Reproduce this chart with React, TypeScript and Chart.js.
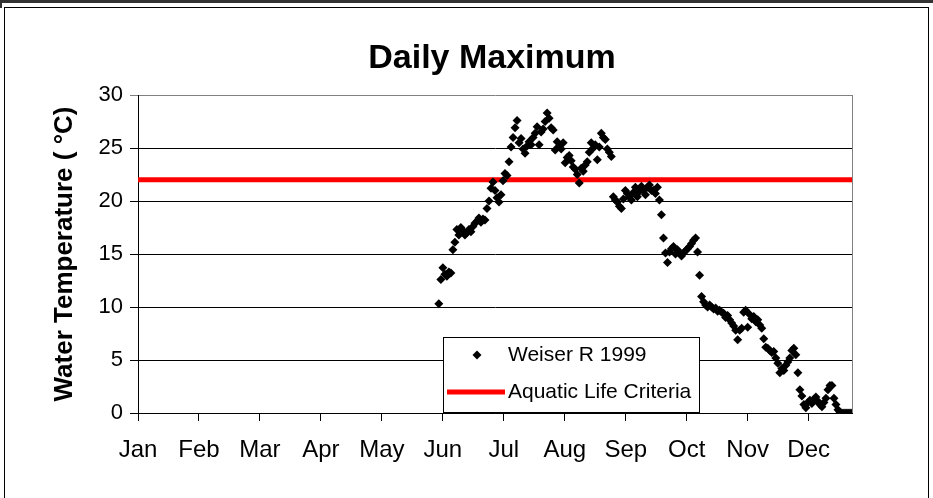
import React, { useEffect, useRef } from "react";
import { Chart, registerables } from "chart.js";

Chart.register(...registerables);

// Month axis (day-of-year, 0 = Jan 1); tick marks evenly spaced, one per month
const monthLabels = ["Jan", "Feb", "Mar", "Apr", "May", "Jun", "Jul", "Aug", "Sep", "Oct", "Nov", "Dec"];
const monthTickDays = [0, 30.4, 60.8, 91.2, 121.6, 152, 182.4, 212.8, 243.2, 273.6, 304, 334.4];
const axisEndDay = 356;

// Weiser R 1999 daily maximum water temperature (°C), one value per day starting at firstDay
const firstDay = 150;
const weiser1999 = [
  10.3, 12.6, 13.7, 13.1, 12.9, 13.3, 13.2, 15.4, 16.1, 17.3,
  16.8, 17.5, 17.2, 16.8, 17.0, 17.3, 17.1, 17.6, 17.9, 18.1,
  18.4, 18.0, 18.3, 18.2, 19.3, 20.0, 21.2, 21.8, 21.0, 20.3,
  19.9, 20.6, 21.9, 22.6, 22.4, 23.7, 25.1, 26.0, 26.9, 27.6,
  25.5, 25.9, 24.9, 24.5, 25.2, 25.6, 25.3, 26.0, 26.4, 27.0,
  25.3, 26.5, 26.8, 27.5, 28.3, 27.8, 26.9, 26.7, 24.8, 25.6,
  25.2, 24.9, 25.5, 23.6, 24.1, 24.3, 23.8, 23.2, 23.0, 22.5,
  21.7, 23.1, 22.8, 23.4, 23.7, 24.6, 25.5, 25.0, 25.3, 23.9,
  25.1, 26.4, 26.0, 25.8, 24.9, 24.6, 24.2, 20.4, 20.1, 19.9,
  19.5, 19.3, 20.2, 21.0, 20.7, 20.4, 20.1, 20.8, 21.3, 20.4,
  20.9, 21.4, 21.0, 20.6, 21.3, 21.5, 21.0, 21.0, 20.7, 21.3,
  20.1, 18.7, 16.5, 15.1, 14.2, 15.2, 15.5, 15.7, 15.0, 15.4,
  15.1, 14.8, 15.1, 15.3, 15.5, 15.7, 16.0, 16.3, 16.5, 15.2,
  13.0, 11.0, 10.5, 10.2, 10.0, 10.2, 10.0, 9.8, 9.9, 9.6,
  9.7, 9.5, 9.4, 9.0, 9.2, 8.8, 8.5, 8.2, 7.8, 6.9,
  7.8, 8.0, 9.5, 9.7, 8.1, 9.3, 8.9, 9.1, 8.6, 8.8,
  8.3, 8.0, 7.0, 6.2, 6.1, 5.9, 5.7, 5.8, 5.2, 4.7,
  3.8, 4.2, 4.0, 4.5, 4.8, 5.2, 5.9, 6.1, 5.5, 3.8,
  2.2, 1.6, 0.8, 0.5, 1.0, 1.2, 0.9, 1.3, 1.5, 1.1,
  0.8, 0.6, 1.0, 1.4, 2.2, 2.6, 2.6, 1.4, 0.8, 0.3,
  0.1, 0.0, 0.0, 0.0, 0.0, 0.0, 0.0,
];

// Aquatic life criteria line
const criteriaValue = 22;
const criteriaDays = [0, axisEndDay];

const yTicks = [0, 5, 10, 15, 20, 25, 30];

const FONT = '"Liberation Sans", Arial, sans-serif';

const decorPlugin = {
  id: "decor",
  beforeDatasetsDraw(chart: any) {
    const { ctx, chartArea } = chart;
    const { top, right, bottom } = chartArea;
    ctx.save();
    ctx.strokeStyle = "#808080";
    ctx.lineWidth = 1;
    ctx.beginPath();
    ctx.moveTo(Math.round(right) + 0.5, top);
    ctx.lineTo(Math.round(right) + 0.5, bottom);
    ctx.stroke();
    ctx.restore();
  },
  afterDraw(chart: any) {
    const { ctx, chartArea } = chart;
    const { left, right } = chartArea;
    ctx.save();
    // Title
    ctx.fillStyle = "#000";
    ctx.font = `bold 34px ${FONT}`;
    ctx.textAlign = "center";
    ctx.textBaseline = "alphabetic";
    ctx.fillText("Daily Maximum", (left + right) / 2 - 3, 68);

    // Legend box
    const bx = 443.5, by = 337.5, bw = 256, bh = 75;
    ctx.fillStyle = "#fff";
    ctx.fillRect(bx, by, bw, bh);
    ctx.strokeStyle = "#000";
    ctx.lineWidth = 1;
    ctx.strokeRect(bx, by, bw, bh);

    // marker
    const mx = 477, my = 355, r = 4.5;
    ctx.fillStyle = "#000";
    ctx.beginPath();
    ctx.moveTo(mx, my - r);
    ctx.lineTo(mx + r, my);
    ctx.lineTo(mx, my + r);
    ctx.lineTo(mx - r, my);
    ctx.closePath();
    ctx.fill();

    // red line
    ctx.strokeStyle = "#ff0000";
    ctx.lineWidth = 5;
    ctx.beginPath();
    ctx.moveTo(447, 392);
    ctx.lineTo(505, 392);
    ctx.stroke();

    ctx.fillStyle = "#000";
    ctx.font = `21px ${FONT}`;
    ctx.textAlign = "left";
    ctx.textBaseline = "middle";
    ctx.fillText("Weiser R 1999", 508, 355);
    ctx.fillText("Aquatic Life Criteria", 508, 392);
    ctx.restore();
  },
};

export default function App() {
  const canvasRef = useRef<HTMLCanvasElement | null>(null);

  useEffect(() => {
    const canvas = canvasRef.current;
    if (!canvas) return;
    const points = weiser1999.map((v, i) => ({ x: firstDay + i, y: v }));
    const criteria = criteriaDays.map((d) => ({ x: d, y: criteriaValue }));

    const chart = new Chart(canvas, {
      type: "scatter",
      data: {
        datasets: [
          {
            label: "Weiser R 1999",
            data: points,
            pointStyle: "rectRot",
            pointRadius: 4.5,
            backgroundColor: "#000",
            borderColor: "#000",
            borderWidth: 0,
            order: 0,
          },
          {
            label: "Aquatic Life Criteria",
            data: criteria,
            showLine: true,
            borderColor: "#ff0000",
            backgroundColor: "#ff0000",
            borderWidth: 5,
            pointRadius: 0,
            order: 1,
          },
        ],
      } as any,
      options: {
        responsive: false,
        animation: false,
        devicePixelRatio: 1,
        layout: { padding: { top: 95, right: 81, bottom: 25, left: 0 } },
        plugins: {
          legend: { display: false },
          tooltip: { enabled: false },
          title: { display: false },
        },
        scales: {
          x: {
            type: "linear",
            min: 0,
            max: axisEndDay,
            afterBuildTicks: (s: any) => {
              s.ticks = monthTickDays.map((v) => ({ value: v }));
            },
            afterFit: (s: any) => {
              s.height = 60;
            },
            ticks: {
              autoSkip: false,
              maxRotation: 0,
              minRotation: 0,
              color: "#000",
              padding: 15,
              font: { family: FONT, size: 24 },
              callback: (_v: any, i: number) => monthLabels[i],
            },
            grid: {
              drawOnChartArea: false,
              drawTicks: true,
              tickLength: 8,
              color: "#000",
              lineWidth: 1,
            },
            border: { display: true, color: "#000", width: 1 },
          },
          y: {
            type: "linear",
            min: 0,
            max: 30,
            afterBuildTicks: (s: any) => {
              s.ticks = yTicks.map((v) => ({ value: v }));
            },
            afterFit: (s: any) => {
              s.width = 138;
            },
            ticks: {
              color: "#000",
              padding: 7,
              font: { family: FONT, size: 22 },
            },
            grid: {
              drawTicks: true,
              tickLength: 8,
              color: (c: any) => (c.tick && c.tick.value === 30 ? "#808080" : "#000"),
              lineWidth: 1,
            },
            border: { display: true, color: "#000", width: 1 },
            title: {
              display: true,
              text: "Water Temperature ( °C)",
              color: "#000",
              font: { family: FONT, size: 26, weight: "bold" },
              padding: { top: 49, bottom: 0 },
            },
          },
        },
      } as any,
      plugins: [decorPlugin],
    });
    return () => chart.destroy();
  }, []);

  return (
    <div style={{ position: "absolute", left: 0, top: 0, width: 933, height: 498, background: "#fff", overflow: "hidden" }}>
      <canvas ref={canvasRef} width={933} height={498} style={{ display: "block", width: 933, height: 498 }} />
      <div style={{ position: "absolute", left: 0, top: 0, width: 933, height: 3, background: "#333", pointerEvents: "none" }} />
      <div style={{ position: "absolute", left: 0, top: 0, width: 2, height: 8, background: "#333", pointerEvents: "none" }} />
      <div style={{ position: "absolute", left: 4, top: 7, width: 923, height: 500, border: "1px solid #000", boxSizing: "content-box", pointerEvents: "none" }} />
    </div>
  );
}
